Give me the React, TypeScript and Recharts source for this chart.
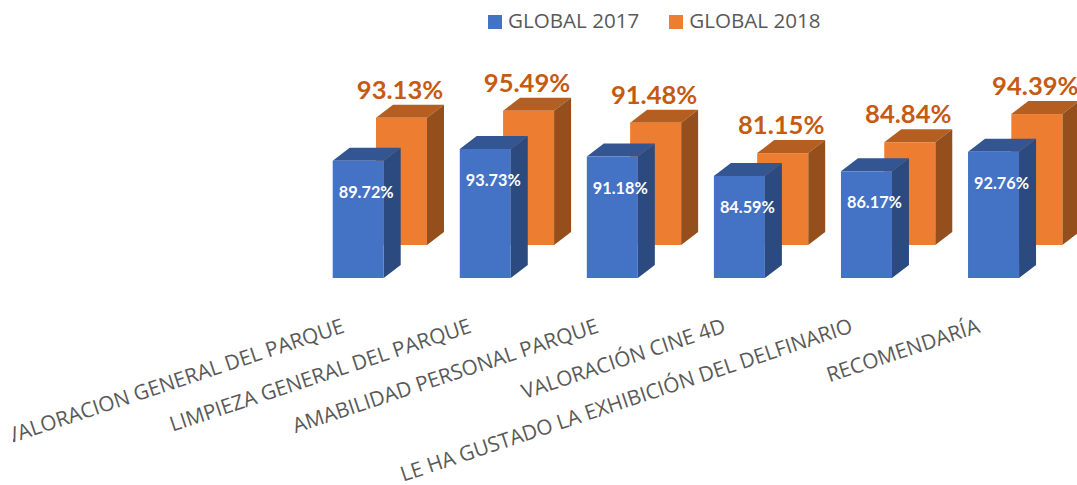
import { Bar, BarChart, LabelList, Legend, XAxis, YAxis } from "recharts";

const categories = [
  "VALORACION GENERAL DEL PARQUE",
  "LIMPIEZA GENERAL DEL PARQUE",
  "AMABILIDAD PERSONAL PARQUE",
  "VALORACIÓN CINE 4D",
  "LE HA GUSTADO LA EXHIBICIÓN DEL DELFINARIO",
  "RECOMENDARÍA",
];
const global2017 = [89.72, 93.73, 91.18, 84.59, 86.17, 92.76];
const global2018 = [93.13, 95.49, 91.48, 81.15, 84.84, 94.39];

const chartData = categories.map((name, i) => ({
  name,
  g2017: global2017[i],
  g2018: global2018[i],
}));

const DEPTH_X = 17;
const DEPTH_Y = 13;
const BACK_ROW_LIFT = 33; // la serie 2018 va en la fila de atras del 3D

function Box3D({ x, y, width, height, front, top, side, lift = 0 }: any) {
  const yTop = y - lift;
  const yBase = y + height - lift;
  const xEnd = x + width;
  return (
    <g>
      <polygon
        points={`${x},${yTop} ${x + DEPTH_X},${yTop - DEPTH_Y} ${xEnd + DEPTH_X},${yTop - DEPTH_Y} ${xEnd},${yTop}`}
        fill={top}
      />
      <polygon
        points={`${xEnd},${yTop} ${xEnd + DEPTH_X},${yTop - DEPTH_Y} ${xEnd + DEPTH_X},${yBase - DEPTH_Y} ${xEnd},${yBase}`}
        fill={side}
      />
      <rect x={x} y={yTop} width={width} height={height} fill={front} />
    </g>
  );
}

function AngledTick({ x, y, payload }: any) {
  return (
    <text
      transform={`translate(${x - 34},${y + 46}) rotate(-18.4)`}
      textAnchor="end"
      fontFamily="'Open Sans', sans-serif"
      fontSize={20.8}
      fill="#595959"
    >
      {payload.value}
    </text>
  );
}

const fmt = (v: number) => `${v.toFixed(2)}%`;

export default function App() {
  return (
    <div
      style={{
        position: "absolute",
        left: 0,
        top: 0,
        width: 1077,
        height: 485,
        overflow: "hidden",
        clipPath: "inset(0 0 0 13px)",
        background: "#fff",
      }}
    >
      <BarChart
        width={1100}
        height={485}
        data={chartData}
        barSize={51}
        barGap={-94.3}
        margin={{ top: 130.5, right: 21.6, bottom: 177, left: 316 }}
      >
        <XAxis
          dataKey="name"
          height={30}
          interval={0}
          axisLine={false}
          tickLine={false}
          tick={<AngledTick />}
        />
        <YAxis hide domain={[50, 100]} />
        <Legend
          layout="horizontal"
          align="center"
          verticalAlign="middle"
          iconType="square"
          iconSize={14}
          wrapperStyle={{ left: 488, top: 6, width: "auto", fontFamily: "'Open Sans', sans-serif", fontSize: 20.6 }}
          formatter={(value) => (
            <span style={{ color: "#595959", marginLeft: 2, marginRight: 20 }}>{value}</span>
          )}
        />
        <Bar
          dataKey="g2018"
          name="GLOBAL 2018"
          fill="#ED7D31"
          isAnimationActive={false}
          shape={(p: any) => (
            <Box3D {...p} front="#ED7D31" top="#B45E22" side="#954F1C" lift={BACK_ROW_LIFT} />
          )}
        >
          <LabelList
            dataKey="g2018"
            content={(p: any) => (
              <text
                x={p.x + p.width / 2 - 1.5}
                y={p.y - BACK_ROW_LIFT - 19}
                textAnchor="middle"
                fontFamily="Lato, sans-serif"
                fontWeight={700}
                fontSize={25.6}
                fill="#C55A11"
              >
                {fmt(Number(p.value))}
              </text>
            )}
          />
        </Bar>
        <Bar
          dataKey="g2017"
          name="GLOBAL 2017"
          fill="#4472C4"
          isAnimationActive={false}
          shape={(p: any) => <Box3D {...p} front="#4472C4" top="#335693" side="#2A4A80" />}
        >
          <LabelList
            dataKey="g2017"
            content={(p: any) => (
              <text
                x={p.x + p.width / 2 + 8}
                y={p.y + 37}
                textAnchor="middle"
                fontFamily="Lato, sans-serif"
                fontWeight={700}
                fontSize={16.3}
                fill="#fff"
              >
                {fmt(Number(p.value))}
              </text>
            )}
          />
        </Bar>
      </BarChart>
    </div>
  );
}
